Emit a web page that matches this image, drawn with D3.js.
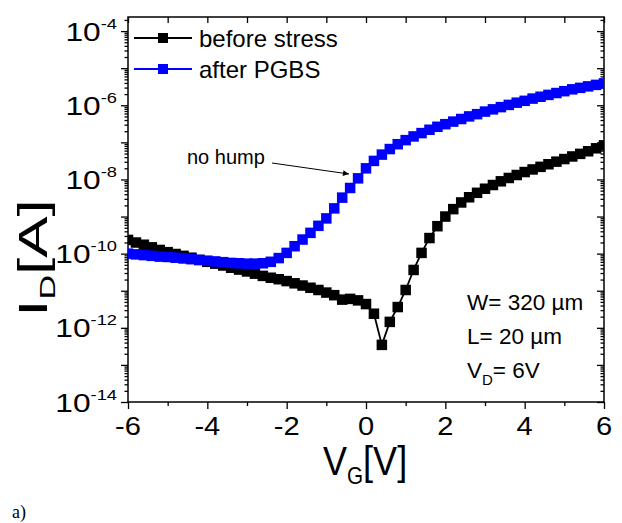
<!DOCTYPE html>
<html>
<head>
<meta charset="utf-8">
<script src="https://cdn.jsdelivr.net/npm/d3@7"></script>
<style>
  body { margin: 0; background: #fff; }
  svg { display: block; font-family: "Liberation Sans", Arial, sans-serif; }
</style>
</head>
<body>
<svg id="chart" width="622" height="523"></svg>
<script>
// Gate voltage sweep (V)
const vg = [-6.0, -5.8, -5.6, -5.4, -5.2, -5.0, -4.8, -4.6, -4.4, -4.2, -4.0, -3.8, -3.6, -3.4, -3.2, -3.0,
  -2.8, -2.6, -2.4, -2.2, -2.0, -1.8, -1.6, -1.4, -1.2, -1.0, -0.8, -0.6, -0.4, -0.2, 0.0,
  0.2, 0.4, 0.6, 0.8, 1.0, 1.2, 1.4, 1.6, 1.8, 2.0, 2.2, 2.4, 2.6, 2.8, 3.0,
  3.2, 3.4, 3.6, 3.8, 4.0, 4.2, 4.4, 4.6, 4.8, 5.0, 5.2, 5.4, 5.6, 5.8, 6.0];

// log10(I_D / A)
const beforeLog = [-9.63, -9.70, -9.76, -9.83, -9.90, -9.96, -10.01, -10.06, -10.11, -10.17, -10.22, -10.27, -10.32, -10.38, -10.43, -10.48,
  -10.54, -10.60, -10.65, -10.69, -10.74, -10.80, -10.86, -10.92, -10.98, -11.05, -11.12, -11.24, -11.22, -11.26, -11.36,
  -11.62, -12.46, -11.84, -11.44, -10.98, -10.44, -9.98, -9.58, -9.26, -9.00, -8.80, -8.62, -8.48, -8.36, -8.25,
  -8.15, -8.05, -7.96, -7.88, -7.80, -7.73, -7.66, -7.59, -7.52, -7.45, -7.38, -7.31, -7.24, -7.16, -7.08];

const afterLog = [-10.00, -10.02, -10.04, -10.06, -10.08, -10.09, -10.11, -10.13, -10.15, -10.17, -10.19, -10.21, -10.23, -10.25, -10.26, -10.27,
  -10.27, -10.26, -10.22, -10.12, -9.98, -9.80, -9.62, -9.44, -9.25, -9.05, -8.78, -8.49, -8.23, -7.97, -7.70,
  -7.50, -7.33, -7.18, -7.05, -6.94, -6.84, -6.75, -6.66, -6.58, -6.51, -6.44, -6.37, -6.30, -6.24, -6.17,
  -6.11, -6.05, -5.99, -5.93, -5.88, -5.82, -5.77, -5.72, -5.67, -5.62, -5.57, -5.53, -5.49, -5.45, -5.41];

const xMajor = [-6, -4, -2, 0, 2, 4, 6];
const xMinor = [-5, -3, -1, 1, 3, 5];
const yDecades = [-14, -13, -12, -11, -10, -9, -8, -7, -6, -5, -4];
const yLabelled = [-14, -12, -10, -8, -6, -4];

const series = [
  {name: "before stress", values: beforeLog, color: "#000000"},
  {name: "after PGBS", values: afterLog, color: "#0000ff"}
];

const notes = [
  {main: "W= 320 \u00b5m"},
  {main: "L= 20 \u00b5m"},
  {main: "V", sub: "D", rest: "= 6V"}
];

const margin = {top: 17, right: 18, bottom: 121, left: 128};
const width = 622, height = 523;
const svg = d3.select("#chart");

const x = d3.scaleLinear().domain([-6, 6]).range([margin.left, width - margin.right]);
const y = d3.scaleLog().domain([1e-14, Math.pow(10, -3.62)]).range([height - margin.bottom, margin.top]);

const x0 = x.range()[0], x1 = x.range()[1];
const yb = y.range()[0], yt = y.range()[1];

// minor log ticks 2..9 per decade
const yMinor = [];
yDecades.forEach(function(d) {
  for (let k = 2; k <= 9; k++) {
    let v = k * Math.pow(10, d);
    if (v < y.domain()[1]) yMinor.push(v);
  }
});
const yMajorVals = yDecades.map(d => Math.pow(10, d));

function clean(g) {
  g.select(".domain").remove();
  g.selectAll("line").attr("stroke", "#000").attr("stroke-width", 1.3);
}

// bottom axis
svg.append("g").attr("transform", "translate(0," + yb + ")")
  .call(d3.axisBottom(x).tickValues(xMajor).tickSize(7).tickFormat(""))
  .call(clean);
svg.append("g").attr("transform", "translate(0," + yb + ")")
  .call(d3.axisBottom(x).tickValues(xMinor).tickSize(4).tickFormat(""))
  .call(clean);
svg.append("g").selectAll("text").data(xMajor).join("text")
  .attr("transform", d => "translate(" + x(d) + "," + (yb + 33) + ") scale(1.12,1)")
  .attr("text-anchor", "middle")
  .attr("font-size", 26).attr("fill", "#000")
  .text(d => (d < 0 ? "-" + Math.abs(d) : d));

// top axis, ticks inward
svg.append("g").attr("transform", "translate(0," + yt + ")")
  .call(d3.axisBottom(x).tickValues(xMajor.concat(xMinor)).tickSize(6).tickFormat(""))
  .call(clean);

// left axis, ticks outward
svg.append("g").attr("transform", "translate(" + x0 + ",0)")
  .call(d3.axisLeft(y).tickValues(yMajorVals).tickSize(7).tickFormat(""))
  .call(clean);
svg.append("g").attr("transform", "translate(" + x0 + ",0)")
  .call(d3.axisLeft(y).tickValues(yMinor).tickSize(3.5).tickFormat(""))
  .call(clean);

// right axis, ticks inward
svg.append("g").attr("transform", "translate(" + x1 + ",0)")
  .call(d3.axisLeft(y).tickValues(yMajorVals).tickFormat(""))
  .call(clean)
  .call(g => g.selectAll("line").attr("x2", -7));
svg.append("g").attr("transform", "translate(" + x1 + ",0)")
  .call(d3.axisLeft(y).tickValues(yMinor).tickFormat(""))
  .call(clean)
  .call(g => g.selectAll("line").attr("x2", -3.5));

// power-of-ten labels
const yl = svg.append("g").selectAll("text").data(yLabelled).join("text")
  .attr("transform", d => "translate(117," + (y(Math.pow(10, d)) + 9.5) + ") scale(1.22,1)")
  .attr("text-anchor", "end")
  .attr("font-size", 26)
  .attr("fill", "#000");
yl.append("tspan").text("10");
yl.append("tspan").attr("font-size", 15).attr("dy", -12).text(d => "-" + Math.abs(d));

// frame
svg.append("rect")
  .attr("x", x0).attr("y", yt)
  .attr("width", x1 - x0).attr("height", yb - yt)
  .attr("fill", "none").attr("stroke", "#000").attr("stroke-width", 1.5);

// data
svg.append("clipPath").attr("id", "plotclip")
  .append("rect").attr("x", x0).attr("y", yt).attr("width", x1 - x0).attr("height", yb - yt);

const plot = svg.append("g").attr("clip-path", "url(#plotclip)");
const line = d3.line()
  .x((d, i) => x(vg[i]))
  .y(d => y(Math.pow(10, d)));
const ms = 10.5;

series.forEach(function(s) {
  const g = plot.append("g");
  g.append("path").datum(s.values)
    .attr("d", line)
    .attr("fill", "none").attr("stroke", s.color).attr("stroke-width", 1.8);
  g.selectAll("rect").data(s.values).join("rect")
    .attr("x", (d, i) => x(vg[i]) - ms / 2)
    .attr("y", d => y(Math.pow(10, d)) - ms / 2)
    .attr("width", ms).attr("height", ms)
    .attr("fill", s.color);
});

// legend
const legend = svg.append("g").selectAll("g").data(series).join("g")
  .attr("transform", (d, i) => "translate(134," + (38 + i * 31) + ")");
legend.append("line").attr("x1", 0).attr("x2", 58)
  .attr("stroke", d => d.color).attr("stroke-width", 2.2);
legend.append("rect").attr("x", 29 - 5).attr("y", -5).attr("width", 10).attr("height", 10)
  .attr("fill", d => d.color);
legend.append("text").attr("x", 65).attr("y", 8.5)
  .attr("font-size", 24).attr("fill", "#000").text(d => d.name);

// annotation
svg.append("defs").append("marker")
  .attr("id", "arrow").attr("viewBox", "0 0 10 10")
  .attr("refX", 10).attr("refY", 5)
  .attr("markerWidth", 9).attr("markerHeight", 6)
  .attr("markerUnits", "userSpaceOnUse")
  .attr("orient", "auto")
  .append("path").attr("d", "M0,0L10,5L0,10z").attr("fill", "#000");
svg.append("text").attr("x", 187).attr("y", 164)
  .attr("font-size", 20).attr("fill", "#000").text("no hump");
svg.append("line")
  .attr("x1", 272).attr("y1", 163).attr("x2", 349).attr("y2", 174)
  .attr("stroke", "#000").attr("stroke-width", 1)
  .attr("marker-end", "url(#arrow)");

// device parameters
const nt = svg.append("g").selectAll("text").data(notes).join("text")
  .attr("x", 467)
  .attr("y", (d, i) => 310 + i * 34)
  .attr("font-size", 22.5).attr("fill", "#000");
nt.append("tspan").text(d => d.main);
nt.filter(d => d.sub).append("tspan").attr("font-size", 15).attr("dy", 7).text(d => d.sub);
nt.filter(d => d.rest).append("tspan").attr("dy", -7).text(d => d.rest);

// axis titles
const xt = svg.append("text")
  .attr("transform", "translate(323,475) scale(0.9,1)")
  .attr("font-size", 40).attr("fill", "#000");
xt.append("tspan").text("V");
xt.append("tspan").attr("font-size", 23).attr("dy", 9).text("G");
xt.append("tspan").attr("dy", -9).text("[V]");

const ytl = svg.append("text")
  .attr("transform", "translate(47,258) rotate(-90) scale(1.55,1)")
  .attr("text-anchor", "middle")
  .attr("font-size", 40).attr("fill", "#000");
ytl.append("tspan").text("I");
ytl.append("tspan").attr("font-size", 22).attr("dy", 8).text("D");
ytl.append("tspan").attr("dy", -8).text("[A]");

// panel label
svg.append("text").attr("x", 12).attr("y", 518)
  .attr("font-family", "Liberation Serif, Times New Roman, serif")
  .attr("font-size", 18).attr("fill", "#000").text("a)");
</script>
</body>
</html>
